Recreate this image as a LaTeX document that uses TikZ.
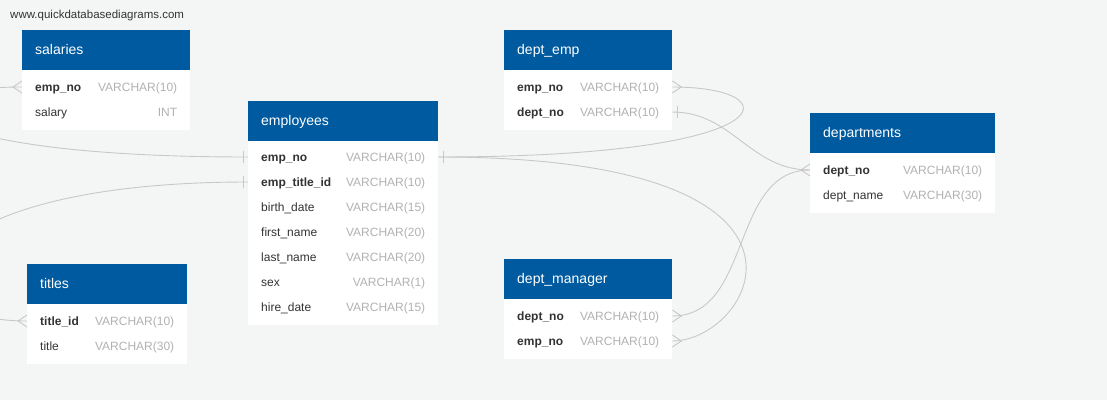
\documentclass[tikz,border=0pt]{standalone}
\usepackage{fontspec}
\setmainfont{Liberation Sans}
\usepackage{tikz}

\definecolor{headblue}{RGB}{0,90,160}
\definecolor{canvas}{RGB}{244,245,245}
\definecolor{fieldtext}{RGB}{51,51,51}
\definecolor{typegray}{RGB}{178,178,178}
\definecolor{relgray}{RGB}{200,200,200}

\newcommand{\keyf}[1]{\textbf{#1}}
\newcommand{\colrow}[3]{\makebox[#1]{#2\hfill\textcolor{typegray}{#3}}}

\tikzset{
  tblhead/.style={anchor=north west, fill=headblue, text=white, inner xsep=13pt, inner ysep=0pt,
    minimum height=40pt, text height=11pt, text depth=2pt, align=left, font=\fontsize{14}{16}\selectfont},
  tblbody/.style={anchor=north west, fill=white, inner sep=0pt},
  field/.style={anchor=west, inner xsep=13pt, inner ysep=0pt, minimum height=25pt,
    text height=9pt, text depth=1pt, text=fieldtext, font=\fontsize{12}{14}\selectfont},
  rel/.style={draw=relgray, line width=0.9pt},
  crowfoot/.pic={\draw[rel] (0,-6) -- (9,0) -- (0,6);},
  onebar/.pic={\draw[rel] (5,-6) -- (5,6);}
}

\begin{document}
\begin{tikzpicture}[x=1pt,y=-1pt]
			\useasboundingbox (0,0) rectangle (1107,400);
			\clip (0,0) rectangle (1107,400);
			\fill[canvas] (0,0) rectangle (1107,400);
			
			\node[anchor=west, inner sep=0pt, text=fieldtext, font=\fontsize{11.5}{13}\selectfont] (site) at (10,16) {www.quickdatabasediagrams.com};
			
			% salaries
			\node[tblhead, text width=142pt] (sal) at (22,30) {salaries};
			\node[tblbody, minimum width=168pt, minimum height=60pt] (sal-body) at (22,70) {};
			\node[field] (sal-empno) at (22,87) {\colrow{142pt}{\keyf{emp\_no}}{VARCHAR(10)}};
			\node[field] (sal-salary) at (22,112) {\colrow{142pt}{salary}{INT}};
			
			% employees
			\node[tblhead, text width=164pt] (emp) at (248,101) {employees};
			\node[tblbody, minimum width=190pt, minimum height=184pt] (emp-body) at (248,141) {};
			\node[field] (emp-empno) at (248,157) {\colrow{164pt}{\keyf{emp\_no}}{VARCHAR(10)}};
			\node[field] (emp-titleid) at (248,182) {\colrow{164pt}{\keyf{emp\_title\_id}}{VARCHAR(10)}};
			\node[field] (emp-birth) at (248,207) {\colrow{164pt}{birth\_date}{VARCHAR(15)}};
			\node[field] (emp-first) at (248,232) {\colrow{164pt}{first\_name}{VARCHAR(20)}};
			\node[field] (emp-last) at (248,257) {\colrow{164pt}{last\_name}{VARCHAR(20)}};
			\node[field] (emp-sex) at (248,282) {\colrow{164pt}{sex}{VARCHAR(1)}};
			\node[field] (emp-hire) at (248,307) {\colrow{164pt}{hire\_date}{VARCHAR(15)}};
			
			% dept_emp
			\node[tblhead, text width=142pt] (de) at (504,30) {dept\_emp};
			\node[tblbody, minimum width=168pt, minimum height=60pt] (de-body) at (504,70) {};
			\node[field] (de-empno) at (504,87) {\colrow{142pt}{\keyf{emp\_no}}{VARCHAR(10)}};
			\node[field] (de-deptno) at (504,112) {\colrow{142pt}{\keyf{dept\_no}}{VARCHAR(10)}};
			
			% departments
			\node[tblhead, text width=159pt] (dept) at (810,113) {departments};
			\node[tblbody, minimum width=185pt, minimum height=60pt] (dept-body) at (810,153) {};
			\node[field] (dept-deptno) at (810,170) {\colrow{159pt}{\keyf{dept\_no}}{VARCHAR(10)}};
			\node[field] (dept-name) at (810,195) {\colrow{159pt}{dept\_name}{VARCHAR(30)}};
			
			% titles
			\node[tblhead, text width=134pt] (ttl) at (27,264) {titles};
			\node[tblbody, minimum width=160pt, minimum height=60pt] (ttl-body) at (27,304) {};
			\node[field] (ttl-titleid) at (27,321) {\colrow{134pt}{\keyf{title\_id}}{VARCHAR(10)}};
			\node[field] (ttl-title) at (27,346) {\colrow{134pt}{title}{VARCHAR(30)}};
			
			% dept_manager
			\node[tblhead, text width=142pt] (dm) at (504,259) {dept\_manager};
			\node[tblbody, minimum width=168pt, minimum height=60pt] (dm-body) at (504,299) {};
			\node[field] (dm-deptno) at (504,316) {\colrow{142pt}{\keyf{dept\_no}}{VARCHAR(10)}};
			\node[field] (dm-empno) at (504,341) {\colrow{142pt}{\keyf{emp\_no}}{VARCHAR(10)}};
			
			% relations
			\draw[rel] (emp-empno.east) .. controls +(350,0) and +(120,0) .. (de-empno.east);
			\draw[rel] (emp-empno.east) .. controls +(420,0) and +(80,0) .. (dm-empno.east);
			\draw[rel] (de-deptno.east) .. controls +(60,0) and +(-60,0) .. (dept-deptno.west);
			\draw[rel] (dm-deptno.east) .. controls +(80,0) and +(-80,0) .. (dept-deptno.west);
			\draw[rel] (emp-empno.west) .. controls +(-350,0) and +(-150,0) .. (sal-empno.west);
			\draw[rel] (emp-titleid.west) .. controls +(-350,0) and +(-150,0) .. (ttl-titleid.west);
			
			\pic[xscale=-1] at (sal-empno.west) {crowfoot};
			\pic[xscale=-1] at (ttl-titleid.west) {crowfoot};
			\pic[xscale=-1] at (emp-empno.west) {onebar};
			\pic[xscale=-1] at (emp-titleid.west) {onebar};
			\pic at (emp-empno.east) {onebar};
			\pic at (de-empno.east) {crowfoot};
			\pic at (de-deptno.east) {onebar};
			\pic[xscale=-1] at (dept-deptno.west) {crowfoot};
			\pic at (dm-deptno.east) {crowfoot};
			\pic at (dm-empno.east) {crowfoot};
		\end{tikzpicture}
\end{document}
